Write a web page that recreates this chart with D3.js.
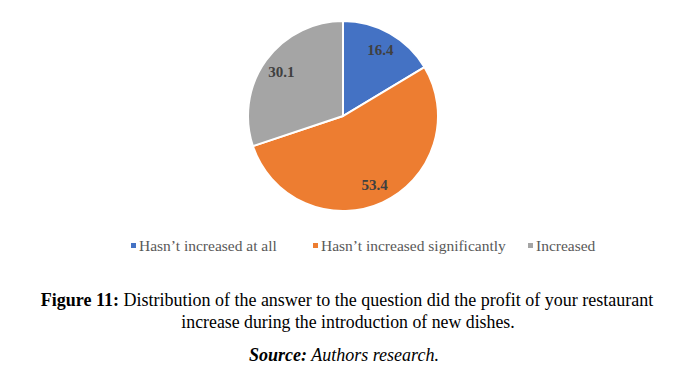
<!DOCTYPE html>
<html>
<head>
<meta charset="utf-8">
<script src="https://cdn.jsdelivr.net/npm/d3@7"></script>
<style>
body { margin: 0; background: #fff; }
svg text { font-family: "Liberation Serif", "Times New Roman", "DejaVu Serif", serif; }
</style>
</head>
<body>
<div id="container"></div>
<script>
// Data
var categories = ["Hasn\u2019t increased at all", "Hasn\u2019t increased significantly", "Increased"];
var values = [16.4, 53.4, 30.1];
var colors = ["#4472C4", "#ED7D31", "#A5A5A5"];

var w = 691, h = 365;
var cx = 343, cy = 116, radius = 95;

var svg = d3.select("#container").append("svg")
	.attr("width", w)
	.attr("height", h);

var pie = d3.pie().sort(null).value(function(d) { return d; });
var arc = d3.arc().innerRadius(0).outerRadius(radius);
var labelArc = d3.arc().innerRadius(radius * 0.8).outerRadius(radius * 0.8);

var g = svg.append("g").attr("transform", "translate(" + cx + "," + cy + ")");

// Slices
g.selectAll("path.slice")
	.data(pie(values))
	.enter()
	.append("path")
	.attr("class", "slice")
	.attr("d", arc)
	.attr("fill", function(d, i) { return colors[i]; })
	.attr("stroke", "#fff")
	.attr("stroke-width", 2);

// Value labels
g.selectAll("text.val")
	.data(pie(values))
	.enter()
	.append("text")
	.attr("class", "val")
	.attr("transform", function(d) { return "translate(" + labelArc.centroid(d) + ")"; })
	.attr("text-anchor", "middle")
	.attr("dy", "0.35em")
	.attr("font-weight", "bold")
	.attr("font-size", "15px")
	.attr("fill", "#404040")
	.text(function(d) { return d.data.toFixed(1); });

// Legend
var legendX = [131, 313, 528];
var legend = svg.selectAll("g.legend")
	.data(categories)
	.enter()
	.append("g")
	.attr("class", "legend")
	.attr("transform", function(d, i) { return "translate(" + legendX[i] + ",246)"; });

legend.append("rect")
	.attr("x", 0).attr("y", -3)
	.attr("width", 5).attr("height", 5)
	.attr("fill", function(d, i) { return colors[i]; });

legend.append("text")
	.attr("x", 8)
	.attr("dy", "0.35em")
	.attr("font-size", "15.5px")
	.attr("fill", "#595959")
	.text(function(d) { return d; });

// Caption
var cap = svg.append("text")
	.attr("x", 347).attr("y", 306)
	.attr("text-anchor", "middle")
	.attr("font-size", "18px")
	.attr("fill", "#000");
cap.append("tspan").attr("font-weight", "bold").text("Figure 11:");
cap.append("tspan").text(" Distribution of the answer to the question did the profit of your restaurant");

svg.append("text")
	.attr("x", 348).attr("y", 328)
	.attr("text-anchor", "middle")
	.attr("font-size", "17.8px")
	.text("increase during the introduction of new dishes.");

var src = svg.append("text")
	.attr("x", 344).attr("y", 361)
	.attr("text-anchor", "middle")
	.attr("font-size", "18px")
	.attr("font-style", "italic");
src.append("tspan").attr("font-weight", "bold").text("Source:");
src.append("tspan").text(" Authors research.");
</script>
</body>
</html>
